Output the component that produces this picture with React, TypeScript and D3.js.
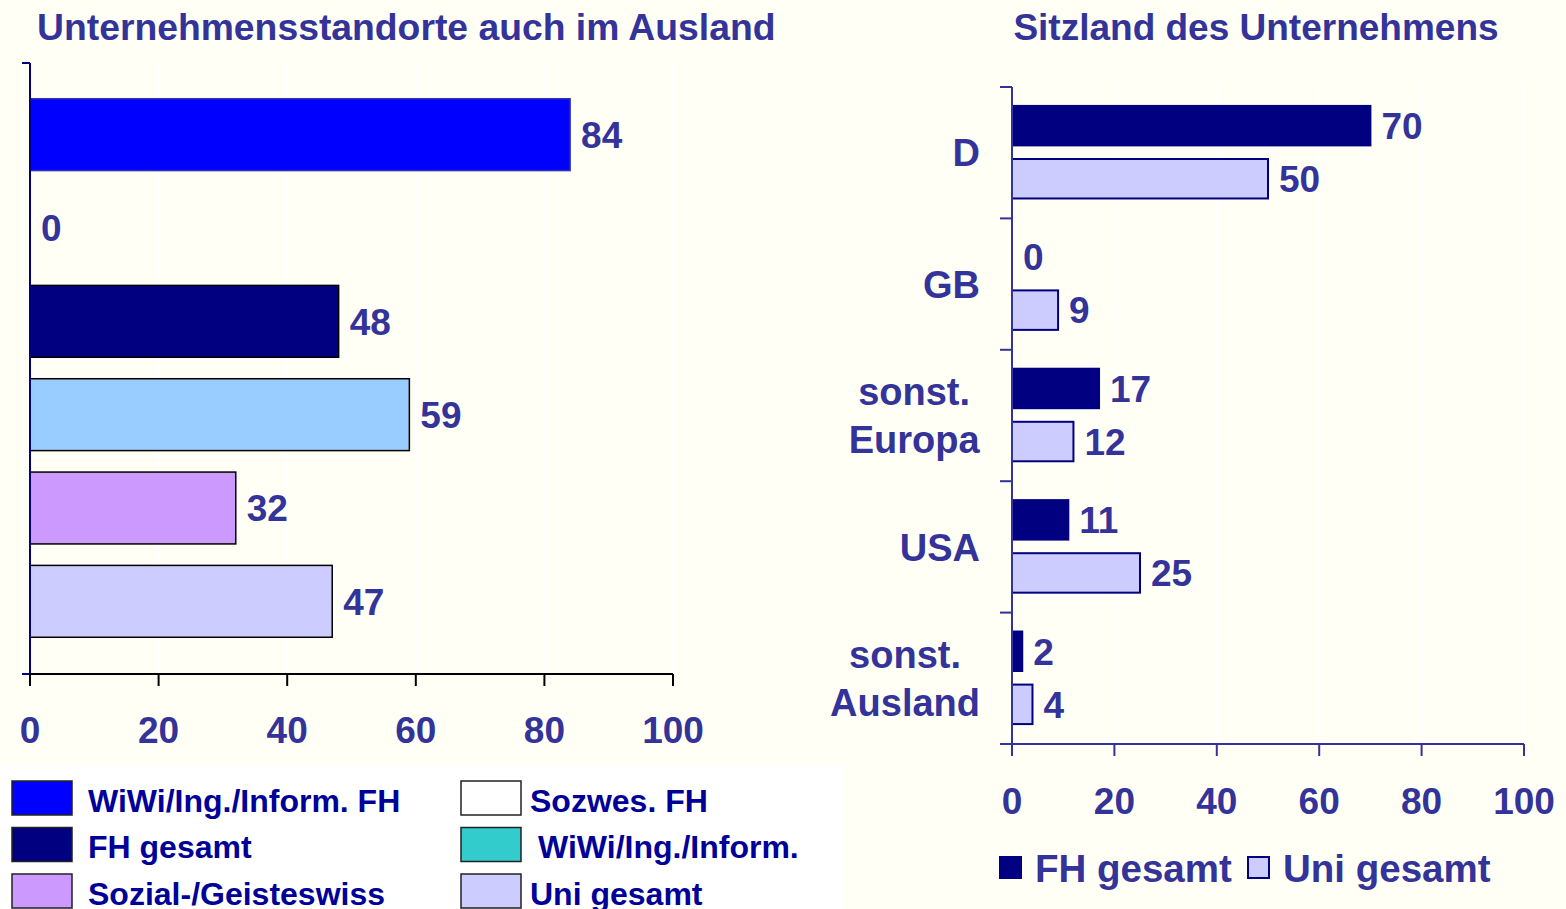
import React, { useRef, useEffect } from 'react';
import * as d3 from 'd3';

// left chart: Unternehmensstandorte auch im Ausland
const leftCategories = [
  'WiWi/Ing./Inform. FH',
  'Sozwes. FH',
  'FH gesamt',
  'WiWi/Ing./Inform.',
  'Sozial-/Geisteswiss',
  'Uni gesamt',
];
const leftValues = [84, 0, 48, 59, 32, 47];
const leftBarColors = ['#0000FF', '#FFFFFF', '#000080', '#99CCFF', '#CC99FF', '#CCCCFF'];
const leftLegendColors = ['#0000FF', '#FFFFFF', '#000080', '#33CCCC', '#CC99FF', '#CCCCFF'];

// right chart: Sitzland des Unternehmens
const rightCategories = ['D', 'GB', 'sonst. Europa', 'USA', 'sonst. Ausland'];
const rightSeries = ['FH gesamt', 'Uni gesamt'];
const fhValues = [70, 0, 17, 11, 2];
const uniValues = [50, 9, 12, 25, 4];
const rightColors = ['#000080', '#CCCCFF'];

const xTicks = [0, 20, 40, 60, 80, 100];

const WIDTH = 1566;
const HEIGHT = 909;
const TEXT = '#333399';
const FONT = '"Liberation Sans", Arial, sans-serif';

const App = () => {
  const svgRef = useRef<SVGSVGElement | null>(null);

  useEffect(() => {
    if (!svgRef.current) return;
    const svg = d3.select(svgRef.current);
    svg.selectAll('*').remove();

    svg.append('rect')
      .attr('width', WIDTH)
      .attr('height', HEIGHT)
      .attr('fill', '#FFFFF5');

    // ---------- left chart ----------
    const lx = d3.scaleLinear().domain([0, 100]).range([30, 673]);
    const ly = d3.scaleBand<string>()
      .domain(leftCategories)
      .range([88, 648])
      .paddingInner(0.23)
      .paddingOuter(0.115);
    const lTop = 63;
    const lBottom = 674;

    svg.append('text')
      .attr('x', 37)
      .attr('y', 40)
      .attr('fill', TEXT)
      .attr('font-family', FONT)
      .attr('font-weight', 'bold')
      .attr('font-size', 37.3)
      .text('Unternehmensstandorte auch im Ausland');

    // faint gridlines
    svg.append('g')
      .selectAll('line')
      .data(xTicks.slice(1))
      .enter()
      .append('line')
      .attr('x1', d => lx(d))
      .attr('x2', d => lx(d))
      .attr('y1', lTop)
      .attr('y2', lBottom)
      .attr('stroke', '#FFFFFF')
      .attr('stroke-width', 2);

    svg.append('g')
      .selectAll('rect')
      .data(leftValues)
      .enter()
      .append('rect')
      .attr('x', lx(0))
      .attr('y', (d, i) => ly(leftCategories[i])!)
      .attr('width', d => lx(d) - lx(0))
      .attr('height', ly.bandwidth())
      .attr('fill', (d, i) => leftBarColors[i])
      .attr('stroke', (d, i) => (i === 0 ? '#3333AA' : '#000000'))
      .attr('stroke-width', d => (d > 0 ? 1.5 : 0));

    svg.append('g')
      .selectAll('text')
      .data(leftValues)
      .enter()
      .append('text')
      .attr('x', d => lx(d) + 11)
      .attr('y', (d, i) => ly(leftCategories[i])! + ly.bandwidth() / 2)
      .attr('dy', '0.36em')
      .attr('fill', TEXT)
      .attr('font-family', FONT)
      .attr('font-weight', 'bold')
      .attr('font-size', 37)
      .text(d => d);

    // axes
    svg.append('line')
      .attr('x1', lx(0)).attr('x2', lx(0))
      .attr('y1', lTop).attr('y2', lBottom)
      .attr('stroke', '#000080').attr('stroke-width', 2);
    svg.append('line')
      .attr('x1', 22).attr('x2', lx(0))
      .attr('y1', lTop).attr('y2', lTop)
      .attr('stroke', '#000080').attr('stroke-width', 2);
    svg.append('line')
      .attr('x1', 22).attr('x2', lx(0))
      .attr('y1', lBottom).attr('y2', lBottom)
      .attr('stroke', '#000080').attr('stroke-width', 2);
    svg.append('line')
      .attr('x1', lx(0)).attr('x2', lx(100))
      .attr('y1', lBottom).attr('y2', lBottom)
      .attr('stroke', '#000000').attr('stroke-width', 2);

    const lTicks = svg.append('g');
    lTicks.selectAll('line')
      .data(xTicks)
      .enter()
      .append('line')
      .attr('x1', d => lx(d)).attr('x2', d => lx(d))
      .attr('y1', lBottom).attr('y2', lBottom + 12)
      .attr('stroke', '#000000').attr('stroke-width', 2);
    lTicks.selectAll('text')
      .data(xTicks)
      .enter()
      .append('text')
      .attr('x', d => lx(d))
      .attr('y', 743)
      .attr('text-anchor', 'middle')
      .attr('fill', TEXT)
      .attr('font-family', FONT)
      .attr('font-weight', 'bold')
      .attr('font-size', 37)
      .text(d => d);

    // legend box
    svg.append('rect')
      .attr('x', 0).attr('y', 765)
      .attr('width', 843).attr('height', 150)
      .attr('fill', '#FFFFFF');

    const legend = svg.append('g')
      .selectAll('g')
      .data(leftCategories)
      .enter()
      .append('g')
      .attr('transform', (d, i) => `translate(${i % 2 === 0 ? 12 : 461}, ${781 + Math.floor(i / 2) * 46.5})`);
    legend.append('rect')
      .attr('width', 60)
      .attr('height', 34)
      .attr('fill', (d, i) => leftLegendColors[i])
      .attr('stroke', '#222222')
      .attr('stroke-width', 1.5);
    legend.append('text')
      .attr('x', (d, i) => (i === 3 ? 77 : i % 2 === 0 ? 76 : 69))
      .attr('y', 19)
      .attr('dy', '0.36em')
      .attr('fill', '#000099')
      .attr('font-family', FONT)
      .attr('font-weight', 'bold')
      .attr('font-size', 32)
      .text(d => d);

    // ---------- right chart ----------
    const rx = d3.scaleLinear().domain([0, 100]).range([1012, 1524]);
    const ry = d3.scaleBand<string>().domain(rightCategories).range([87, 744]);
    const rInner = d3.scaleBand<string>()
      .domain(rightSeries)
      .range([0, ry.bandwidth()])
      .paddingInner(0.27)
      .paddingOuter(0.35);
    const rBottom = 744;

    svg.append('text')
      .attr('x', 1256)
      .attr('y', 40)
      .attr('text-anchor', 'middle')
      .attr('fill', TEXT)
      .attr('font-family', FONT)
      .attr('font-weight', 'bold')
      .attr('font-size', 37)
      .text('Sitzland des Unternehmens');

    svg.append('g')
      .selectAll('line')
      .data(xTicks.slice(1))
      .enter()
      .append('line')
      .attr('x1', d => rx(d)).attr('x2', d => rx(d))
      .attr('y1', 87).attr('y2', rBottom)
      .attr('stroke', '#FFFFFF').attr('stroke-width', 2);

    const seriesValues = [fhValues, uniValues];
    seriesValues.forEach((vals, s) => {
      const g = svg.append('g');
      g.selectAll('rect')
        .data(vals)
        .enter()
        .append('rect')
        .attr('x', rx(0))
        .attr('y', (d, i) => ry(rightCategories[i])! + rInner(rightSeries[s])! - s)
        .attr('width', d => rx(d) - rx(0))
        .attr('height', rInner.bandwidth())
        .attr('fill', rightColors[s])
        .attr('stroke', '#000080')
        .attr('stroke-width', d => (d > 0 ? 2 : 0));
      g.selectAll('text')
        .data(vals)
        .enter()
        .append('text')
        .attr('x', d => rx(d) + 11)
        .attr('y', (d, i) => ry(rightCategories[i])! + rInner(rightSeries[s])! - s + rInner.bandwidth() / 2)
        .attr('dy', '0.36em')
        .attr('fill', TEXT)
        .attr('font-family', FONT)
        .attr('font-weight', 'bold')
        .attr('font-size', 37)
        .text(d => d);
    });

    // right axes
    svg.append('line')
      .attr('x1', rx(0)).attr('x2', rx(0))
      .attr('y1', 87).attr('y2', rBottom)
      .attr('stroke', TEXT).attr('stroke-width', 2);
    svg.append('g')
      .selectAll('line')
      .data([...rightCategories.map(c => ry(c)!), rBottom])
      .enter()
      .append('line')
      .attr('x1', 1000).attr('x2', rx(0))
      .attr('y1', d => d).attr('y2', d => d)
      .attr('stroke', TEXT).attr('stroke-width', 2);
    svg.append('line')
      .attr('x1', rx(0)).attr('x2', rx(100))
      .attr('y1', rBottom).attr('y2', rBottom)
      .attr('stroke', TEXT).attr('stroke-width', 2);
    const rTicks = svg.append('g');
    rTicks.selectAll('line')
      .data(xTicks)
      .enter()
      .append('line')
      .attr('x1', d => rx(d)).attr('x2', d => rx(d))
      .attr('y1', rBottom).attr('y2', rBottom + 12)
      .attr('stroke', TEXT).attr('stroke-width', 2);
    rTicks.selectAll('text')
      .data(xTicks)
      .enter()
      .append('text')
      .attr('x', d => rx(d))
      .attr('y', 814)
      .attr('text-anchor', 'middle')
      .attr('fill', TEXT)
      .attr('font-family', FONT)
      .attr('font-weight', 'bold')
      .attr('font-size', 37)
      .text(d => d);

    // category labels, lines centred on each other, block right-aligned
    rightCategories.forEach(cat => {
      const lines = cat.split(' ');
      const cy = ry(cat)! + ry.bandwidth() / 2;
      const t = svg.append('text')
        .attr('text-anchor', 'middle')
        .attr('fill', TEXT)
        .attr('font-family', FONT)
        .attr('font-weight', 'bold')
        .attr('font-size', 38);
      lines.forEach((ln, k) => {
        t.append('tspan')
          .attr('x', 0)
          .attr('y', cy + (k - (lines.length - 1) / 2) * 48)
          .attr('dy', '0.36em')
          .text(ln);
      });
      const w = (t.node() as SVGTextElement).getBBox().width;
      t.attr('transform', `translate(${980 - w / 2}, 0)`);
    });

    // right legend
    const rLegend = svg.append('g')
      .selectAll('g')
      .data(rightSeries)
      .enter()
      .append('g')
      .attr('transform', (d, i) => `translate(${i === 0 ? 1000 : 1248}, 857)`);
    rLegend.append('rect')
      .attr('width', 21)
      .attr('height', 21)
      .attr('fill', (d, i) => rightColors[i])
      .attr('stroke', '#000080')
      .attr('stroke-width', 2);
    rLegend.append('text')
      .attr('x', 35)
      .attr('y', 11)
      .attr('dy', '0.36em')
      .attr('fill', TEXT)
      .attr('font-family', FONT)
      .attr('font-weight', 'bold')
      .attr('font-size', 38.5)
      .text(d => d);
  }, []);

  return (
    <svg
      ref={svgRef}
      width={WIDTH}
      height={HEIGHT}
      style={{ position: 'absolute', left: 0, top: 0, display: 'block' }}
    />
  );
};

export default App;
